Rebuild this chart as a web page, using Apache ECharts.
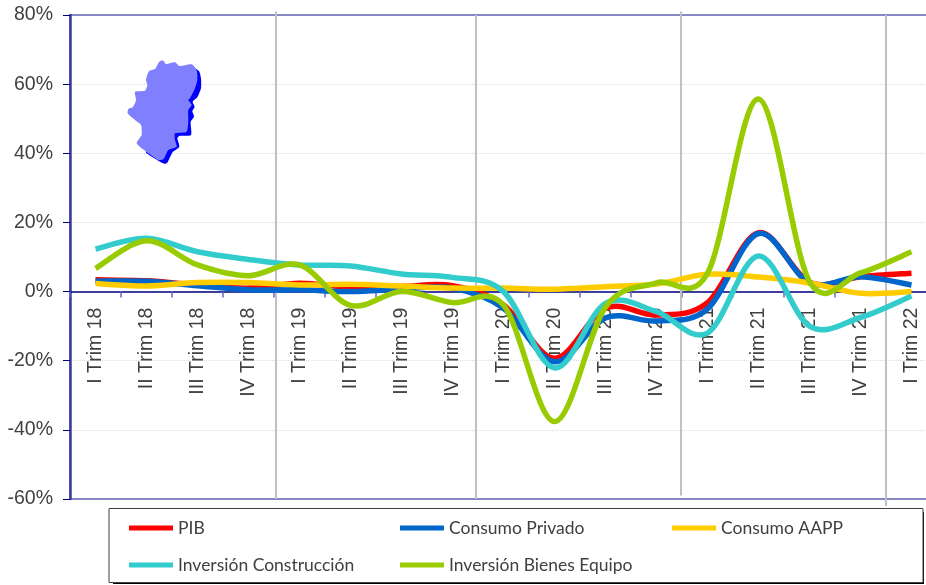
<!DOCTYPE html>
<html><head><meta charset="utf-8">
<style>html,body{margin:0;padding:0;background:#fff}#c{width:926px;height:585px}</style>
<script src="https://cdn.jsdelivr.net/npm/echarts@6/dist/echarts.min.js"></script>
</head><body><div id="c"></div>
<script>
const categories = ['I Trim 18','II Trim 18','III Trim 18','IV Trim 18','I Trim 19','II Trim 19','III Trim 19','IV Trim 19','I Trim 20','II Trim 20','III Trim 20','IV Trim 20','I Trim 21','II Trim 21','III Trim 21','IV Trim 21','I Trim 22'];
const pib = [3.4,3.1,1.9,1.0,2.4,1.2,1.5,1.7,-3.9,-19.3,-4.8,-6.8,-3.2,17,2.7,4.3,5.3];
const consumoPrivado = [3,3,1.7,0.5,0.5,0,0.7,1,-4.8,-20.3,-7.6,-8.5,-5,16.8,2.5,4.3,1.9];
const consumoAAPP = [2.3,1.6,2.6,2.6,1.9,2.1,1.6,1,1,0.7,1.4,2.2,5,4.2,2.5,-0.5,0];
const invConstruccion = [12.3,15.4,11.5,9.3,7.7,7.4,5.1,4.1,0,-22.1,-3.4,-5.8,-12,10.3,-10,-7.5,-1.3];
const invBienesEquipo = [6.7,14.7,7.7,4.6,7.7,-4,0,-3.2,-3.9,-37.6,-4.5,2.5,5.3,55.7,2.9,5.4,11.5];
const yearRules = [[4.04,81,-60],[7.96,80,-60],[11.98,81,-59],[16,80,-62]];
const seriesDefs = [
  ['PIB',pib,'#ff0000'],
  ['Consumo Privado',consumoPrivado,'#0066cc'],
  ['Consumo AAPP',consumoAAPP,'#ffcc00'],
  ['Inversión Construcción',invConstruccion,'#33cccc'],
  ['Inversión Bienes Equipo',invBienesEquipo,'#99cc00']
];
const legendSpots = [[124,514],[395,514],[667,514],[124,551],[395,551]];
const aragon = [[298,185],[310,182],[318,192],[345,187],[358,198],[395,193],[410,210],[412,240],[405,265],[390,295],[385,300],[395,315],[385,330],[385,360],[380,395],[345,400],[345,420],[350,440],[325,450],[310,478],[295,480],[265,460],[230,430],[245,405],[243,375],[225,360],[203,340],[205,327],[218,322],[228,300],[225,275],[255,272],[262,255],[258,240],[267,213],[285,207]];
const aragonShade = [[405,205],[418,215],[423,235],[423,265],[412,292],[398,305],[404,320],[397,333],[402,350],[392,365],[393,405],[358,408],[352,415],[358,440],[338,456],[322,488],[313,491],[295,482],[258,458],[262,450],[280,457],[320,440],[340,390],[380,300]];
const pts = a => a.map(p => [60 + p[0]/3, p[1]/3]);

// Smooth curve in the spreadsheet style, built from the axis scales.
function curveRender(values,color){
  return (params,api)=>{
    if(params.dataIndex!==0) return null;
    const p=values.map((v,i)=>api.coord([i,v]));
    let d='M'+p[0][0]+' '+p[0][1];
    for(let i=0;i<p.length-1;i++){
      const a=p[Math.max(i-1,0)],b=p[i],c=p[i+1],e=p[Math.min(i+2,p.length-1)];
      d+=' C'+(b[0]+(c[0]-a[0])/6)+' '+(b[1]+(c[1]-a[1])/6)+' '+(c[0]-(e[0]-b[0])/6)+' '+(c[1]-(e[1]-b[1])/6)+' '+c[0]+' '+c[1];
    }
    return {type:'path',shape:{pathData:d},style:{fill:null,stroke:color,lineWidth:5.5,lineCap:'butt',lineJoin:'round'}};
  };
}

const chart = echarts.init(document.getElementById('c'));
chart.setOption({
  animation:false,
  backgroundColor:'#fff',
  textStyle:{fontFamily:'Lato'},
  grid:{left:70,top:15,width:867,height:484,outerBoundsMode:'none',show:true,borderColor:'#5f5fae',borderWidth:1.5,backgroundColor:'transparent'},
  legend: seriesDefs.map((s,i)=>({
    data:[s[0]],left:legendSpots[i][0],top:legendSpots[i][1],icon:'rect',itemWidth:44,itemHeight:5,itemGap:4,
    textStyle:{fontFamily:'Lato',fontSize:17.5,color:'#404040'},z:10
  })),
  xAxis:[{
    type:'category',data:categories,boundaryGap:true,position:'bottom',offset:-207.4,
    axisLine:{onZero:false,lineStyle:{color:'#000080',width:1.5}},
    axisTick:{show:true,inside:false,length:6,lineStyle:{color:'#6666cc',width:1.5}},
    axisLabel:{rotate:90,interval:0,margin:16,fontFamily:'Liberation Sans',fontSize:19.5,color:'#404040',hideOverlap:false},
    splitLine:{show:false}
  },{
    type:'value',min:0,max:17,position:'top',show:false,splitLine:{show:false}
  }],
  yAxis:{
    type:'value',min:-60,max:80,interval:20,
    axisLine:{show:true,onZero:false,lineStyle:{color:'#3a3a9e',width:2.5}},
    axisTick:{show:true,length:7,lineStyle:{color:'#000080',width:1}},
    axisLabel:{formatter:'{value}%',fontFamily:'Liberation Sans',fontSize:19.5,color:'#404040',margin:17,padding:[4,0,0,0]},
    splitLine:{show:true,showMinLine:false,showMaxLine:false,lineStyle:{color:'#dcdcdc',type:'dotted',width:1}}
  },
  graphic:[
    {type:'rect',z:1,shape:{x:113,y:512,width:811,height:72},style:{fill:'#000'},silent:true},
    {type:'rect',z:2,shape:{x:109,y:508.5,width:814,height:74},style:{fill:'#fff',stroke:'#404040',lineWidth:1},silent:true},
    {type:'polygon',z:3,shape:{points:pts(aragonShade),smooth:0.2},style:{fill:'#0000ff'},silent:true},
    {type:'polygon',z:4,shape:{points:pts(aragon),smooth:0.2},style:{fill:'#8080ff'},silent:true}
  ],
  series:[
    {type:'custom',xAxisIndex:1,yAxisIndex:0,data:yearRules,silent:true,z:1,clip:false,
     encode:{x:0,y:1},
     renderItem:(params,api)=>{
       const a=api.coord([api.value(0),api.value(1)]), b=api.coord([api.value(0),api.value(2)]);
       return {type:'line',shape:{x1:a[0],y1:a[1],x2:b[0],y2:b[1]},style:{stroke:'#c0c0c0',lineWidth:2}};
     }},
    ...seriesDefs.map(s=>({
      name:s[0],type:'custom',xAxisIndex:0,yAxisIndex:0,data:s[1].map((v,i)=>[i,v]),encode:{x:0,y:1},clip:false,silent:true,z:3,
      renderItem:curveRender(s[1],s[2]),itemStyle:{color:s[2]}
    }))
  ]
});
</script></body></html>
